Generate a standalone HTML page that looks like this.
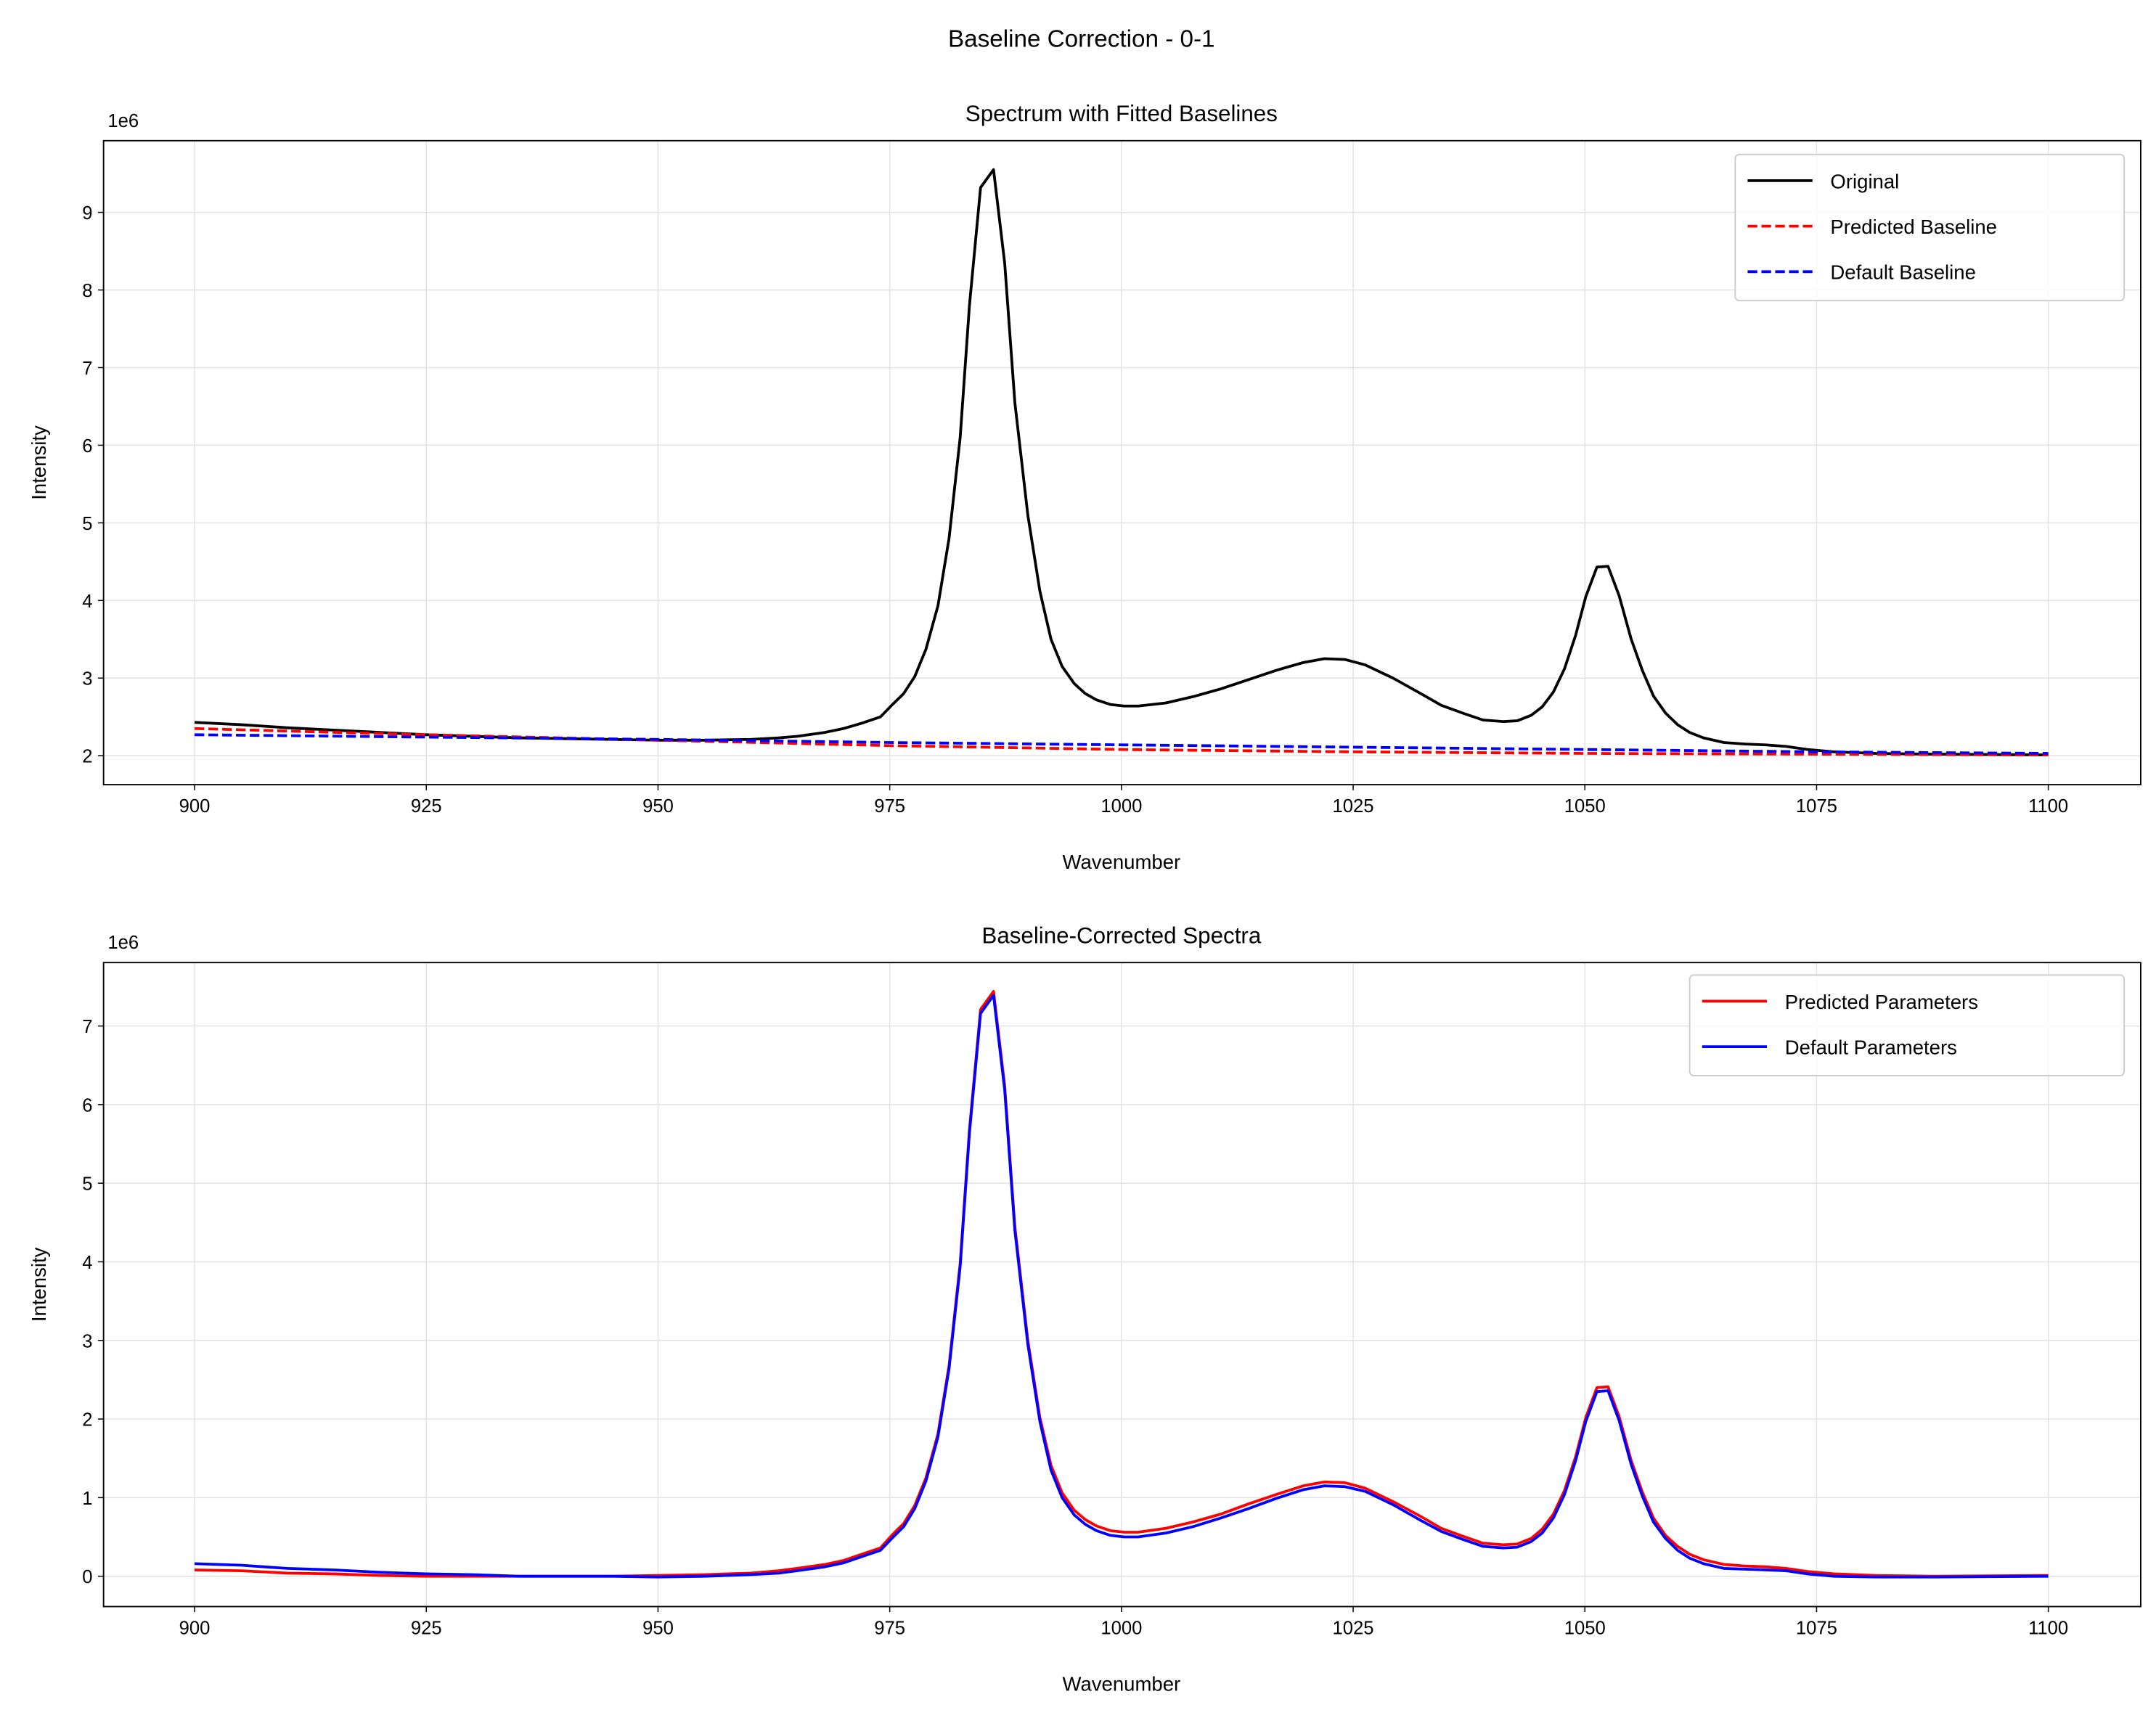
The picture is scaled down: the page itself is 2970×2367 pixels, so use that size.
<!DOCTYPE html>
<html><head><meta charset="utf-8"><style>
html,body{margin:0;padding:0;background:#fff}
svg{display:block;font-family:"Liberation Sans","DejaVu Sans",sans-serif}
</style></head><body>
<svg id="chart" width="2970" height="2367" viewBox="0 0 1563 1245.8" xmlns="http://www.w3.org/2000/svg">
<rect width="1563" height="1245.8" fill="#fff"/>
<text x="784" y="34" font-size="17.5" text-anchor="middle">Baseline Correction - 0-1</text>
<g id="top"></g>
<g id="bot"></g>
</svg>
<script>
const xTicks=[900,925,950,975,1000,1025,1050,1075,1100];
const topYTicks=[2,3,4,5,6,7,8,9];
const botYTicks=[0,1,2,3,4,5,6,7];
const origX=[900,905,910,915,920,925,930,935,940,945,950,955,960,963,965,968,970,972,974,975.3,976.5,977.7,978.9,980.2,981.4,982.6,983.6,984.8,986.2,987.4,988.5,989.9,991.2,992.4,993.6,994.9,996.1,997.3,998.8,1000.3,1001.8,1004.8,1007.7,1010.7,1013.7,1016.7,1019.6,1021.9,1024.1,1026.3,1029.3,1032.3,1034.5,1036.8,1039,1041.2,1042.7,1044.2,1045.4,1046.6,1047.8,1049,1050.1,1051.3,1052.5,1053.7,1055,1056.2,1057.4,1058.7,1060,1061.3,1062.8,1065,1067.3,1069.5,1071.7,1074,1076.9,1081.4,1087.4,1100];
const origY=[2.43,2.40,2.36,2.33,2.30,2.27,2.25,2.23,2.22,2.21,2.20,2.20,2.21,2.23,2.25,2.30,2.35,2.42,2.50,2.66,2.80,3.02,3.37,3.93,4.80,6.10,7.80,9.32,9.55,8.35,6.55,5.10,4.12,3.50,3.15,2.93,2.80,2.72,2.66,2.64,2.64,2.68,2.76,2.86,2.98,3.10,3.20,3.25,3.24,3.17,3.00,2.80,2.65,2.55,2.46,2.44,2.45,2.52,2.63,2.82,3.12,3.55,4.05,4.43,4.44,4.06,3.50,3.10,2.77,2.55,2.40,2.30,2.23,2.17,2.15,2.14,2.12,2.08,2.05,2.03,2.02,2.01];
const baseX=[900,925,950,975,1000,1025,1050,1075,1100];
const predBase=[2.35,2.27,2.20,2.13,2.08,2.05,2.03,2.02,2.01];
const defBase=[2.27,2.24,2.21,2.17,2.14,2.11,2.08,2.05,2.03];
const predCorr=[.08,.07,.04,.03,.01,.00,.00,.00,.00,.00,.01,.02,.04,.07,.10,.15,.20,.28,.36,.53,.67,.90,1.25,1.81,2.68,3.98,5.68,7.21,7.44,6.24,4.45,3.00,2.02,1.41,1.06,.84,.72,.64,.58,.56,.56,.61,.69,.79,.92,1.04,1.15,1.20,1.19,1.12,.95,.76,.61,.51,.42,.40,.41,.48,.60,.79,1.09,1.52,2.02,2.40,2.41,2.03,1.47,1.07,.74,.52,.38,.28,.21,.15,.13,.12,.10,.06,.03,.01,.00,.01];
const defCorr=[.16,.14,.10,.08,.05,.03,.02,.00,.00,.00,-.01,.00,.02,.04,.07,.12,.17,.25,.33,.49,.63,.86,1.21,1.77,2.64,3.94,5.64,7.16,7.39,6.19,4.40,2.95,1.97,1.35,1.00,.78,.66,.58,.52,.50,.50,.55,.63,.74,.86,.99,1.10,1.15,1.14,1.08,.91,.71,.57,.47,.38,.36,.37,.44,.55,.74,1.04,1.47,1.97,2.35,2.36,1.98,1.42,1.02,.69,.48,.33,.23,.16,.10,.09,.08,.07,.03,.00,-.01,-.01,.00];

const NS='http://www.w3.org/2000/svg';
function mk(parent,tag,attrs,text){const e=document.createElementNS(NS,tag);for(const k in attrs)e.setAttribute(k,attrs[k]);if(text!==undefined)e.textContent=text;parent.appendChild(e);return e;}
const xs=v=>141+(v-900)*6.72;

function axes(g,top,bottom,y0v,y0p,y1v,y1p,yTicks,title,prefix){
  const ys=v=>y0p+(v-y0v)*(y1p-y0p)/(y1v-y0v);
  for(const t of xTicks){
    const l=mk(g,'line',{x1:xs(t),x2:xs(t),y1:top,y2:bottom,stroke:'#e3e3e3','stroke-width':0.8});
    
    
  }
  for(const t of yTicks){
    const l=mk(g,'line',{x1:75,x2:1552,y1:ys(t),y2:ys(t),stroke:'#e3e3e3','stroke-width':0.8});
    
    
  }
  for(const t of xTicks){
    mk(g,'line',{x1:xs(t),x2:xs(t),y1:bottom,y2:bottom+4,stroke:'#000','stroke-width':0.8});
    const tx=mk(g,'text',{x:xs(t),y:bottom+20,'font-size':13.5,'text-anchor':'middle'},String(t));
    
    
  }
  for(const t of yTicks){
    mk(g,'line',{x1:71,x2:75,y1:ys(t),y2:ys(t),stroke:'#000','stroke-width':0.8});
    const tx=mk(g,'text',{x:67,y:ys(t)+5,'font-size':13.5,'text-anchor':'end'},String(t));
    
    
  }
  const e=mk(g,'text',{x:78,y:top-10,'font-size':13.5},'1e6');
  
  
  const tt=mk(g,'text',{x:813,y:top-14,'font-size':16.5,'text-anchor':'middle'},title);
  
  
  const xl=mk(g,'text',{x:813,y:bottom+61,'font-size':14.5,'text-anchor':'middle'},'Wavenumber');
  
  
  const cy=(top+bottom)/2;
  const yl=mk(g,'text',{x:33,y:cy,'font-size':14.5,'text-anchor':'middle',transform:'rotate(-90 33 '+cy+')'},'Intensity');
  
  
  return ys;
}
function line(g,X,Y,ys,color,dash,name){
  const d=X.map((x,i)=>(i?'L':'M')+xs(x).toFixed(2)+','+ys(Y[i]).toFixed(2)).join('');
  const p=mk(g,'path',{d:d,fill:'none',stroke:color,'stroke-width':2,'stroke-linejoin':'round'});
  if(dash)p.setAttribute('stroke-dasharray','7,3');
  
  
}
function frame(g,top,bottom,prefix){
  const r=mk(g,'rect',{x:75,y:top,width:1477,height:bottom-top,fill:'none',stroke:'#000','stroke-width':1});
  
  
}
function legend(g,x,y,w,entries,prefix){
  const h=entries.length*33+7;
  const r=mk(g,'rect',{x:x,y:y,width:w,height:h,rx:3,fill:'#fff','fill-opacity':0.85,stroke:'#ccc','stroke-width':1});
  
  
  entries.forEach((en,i)=>{
    const cy=y+19+i*33;
    const l=mk(g,'line',{x1:x+9,x2:x+56,y1:cy,y2:cy,stroke:en[1],'stroke-width':2});
    if(en[2])l.setAttribute('stroke-dasharray','7,3');
    
    
    const t=mk(g,'text',{x:x+69,y:cy+5.5,'font-size':14.5},en[0]);
    
    
  });
}
const gt=document.getElementById('top');


const ys1=axes(gt,102,569,2,548,9,154,topYTicks,'Spectrum with Fitted Baselines','top');
line(gt,origX,origY,ys1,'#000',false,'original-line');
line(gt,baseX,predBase,ys1,'#ff0000',true,'predicted-baseline-line');
line(gt,baseX,defBase,ys1,'#0000ff',true,'default-baseline-line');
frame(gt,102,569,'top');
legend(gt,1258,112,282,[['Original','#000',false],['Predicted Baseline','#ff0000',true],['Default Baseline','#0000ff',true]],'top');

const gb=document.getElementById('bot');


const ys2=axes(gb,698,1165,0,1143,7,744,botYTicks,'Baseline-Corrected Spectra','bottom');
line(gb,origX,predCorr,ys2,'#ff0000',false,'predicted-parameters-line');
line(gb,origX,defCorr,ys2,'#0000ff',false,'default-parameters-line');
frame(gb,698,1165,'bottom');
legend(gb,1225,707,315,[['Predicted Parameters','#ff0000',false],['Default Parameters','#0000ff',false]],'bottom');
</script>
</body></html>
